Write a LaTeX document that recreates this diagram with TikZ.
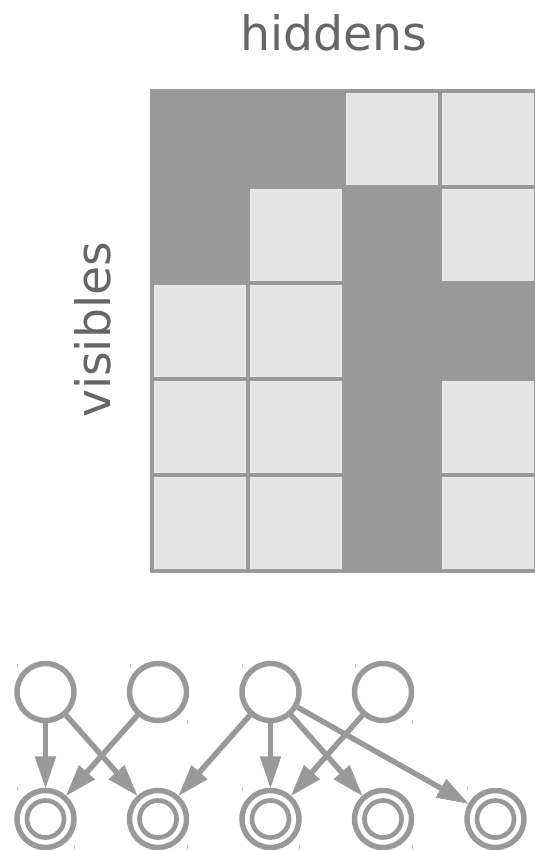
\documentclass[tikz,border=0pt]{standalone}
\usepackage{fontspec}
\setmainfont{DejaVu Sans}
\usetikzlibrary{arrows.meta}
\definecolor{gr}{HTML}{999999}
\definecolor{lt}{HTML}{E5E5E5}
\definecolor{tx}{HTML}{666666}
\definecolor{tk}{HTML}{CCCCCC}
\tikzset{
  lab/.style={text=tx,font=\fontsize{35.5pt}{40pt}\selectfont,inner sep=0pt},
  hid/.style={circle,draw=gr,line width=4.1pt,minimum size=42.75pt,inner sep=0pt},
  vis/.style={hid},
  edge/.style={draw=gr,line width=4.1pt,-{Triangle[length=23.5pt,width=16pt,line width=0.5pt]}},
  tick/.style={draw=tk,line width=0.75pt},
  darkcell/.style={fill=gr},
  lightcell/.style={fill=lt}
}
\begin{document}
\begin{tikzpicture}[x=0.75pt,y=-0.75pt]
\useasboundingbox (0,0) rectangle (535,850);
% labels
\node[lab,anchor=base] (hl) at (334,50) {hiddens};
\node[lab,anchor=base,rotate=90] (vl) at (110,330) {visibles};
% grid
\begin{scope}
\clip (0,0) rectangle (535,850);
\fill[darkcell] (150,89) rectangle (538,573);
\foreach \i/\j in {2/0,3/0,1/1,3/1,0/2,1/2,0/3,1/3,3/3,0/4,1/4,3/4}{
  \fill[lightcell] ({154+96*\i},{93+96*\j}) rectangle ({246+96*\i},{185+96*\j});
}
\end{scope}
% graph nodes
\foreach \k in {0,...,3}{
  \node[hid] (h\k) at ({45.5+112.5*\k},692) {};
  \draw[tick] ({45.5+112.5*\k-28},663.5) -- ({45.5+112.5*\k-28},667.5);
}
\foreach \k in {1,2,3}{
  \draw[tick] ({45.5+112.5*\k+29},720) -- ({45.5+112.5*\k+29},724);
}
\foreach \k in {0,...,4}{
  \node[vis] (v\k) at ({45.5+112.5*\k},819) {};
  \draw[gr,line width=3.5pt] (v\k.center) circle[radius=13.9pt];
  \draw[tick] ({45.5+112.5*\k-28},787) -- ({45.5+112.5*\k-28},791);
}
\foreach \k in {0,...,3}{
  \draw[tick] ({45.5+112.5*\k+29},845) -- ({45.5+112.5*\k+29},850);
}
% edges
\draw[edge] (h0) -- (v0);
\draw[edge] (h0) -- (v1);
\draw[edge] (h1) -- (v0);
\draw[edge] (h2) -- (v1);
\draw[edge] (h2) -- (v2);
\draw[edge] (h2) -- (v3);
\draw[edge] (h2) -- (v4);
\draw[edge] (h3) -- (v2);
\end{tikzpicture}
\end{document}
